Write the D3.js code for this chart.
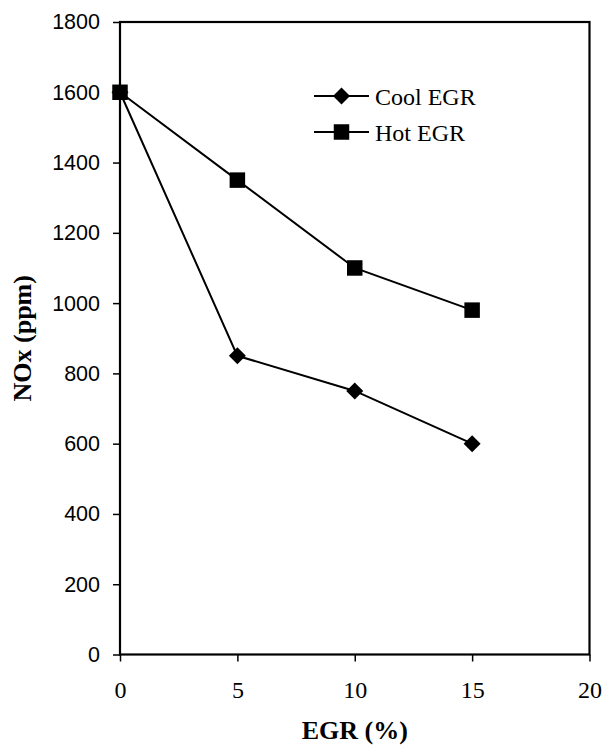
<!DOCTYPE html>
<html><head><meta charset="utf-8">
<script src="https://cdn.jsdelivr.net/npm/d3@7"></script>
<style>body{margin:0;background:#fff}</style>
</head><body>
<svg id="c" width="603" height="749"></svg>
<script>
const egr = [0, 5, 10, 15];
const coolEGR = [1600, 850, 750, 600];
const hotEGR = [1600, 1350, 1100, 980];
const xTicks = [0, 5, 10, 15, 20];
const yTicks = [0, 200, 400, 600, 800, 1000, 1200, 1400, 1600, 1800];

const svg = d3.select("#c");
const L = 120, R = 589.5, T = 22, B = 654.5;
const x = d3.scaleLinear().domain([0, 20]).range([L, R]);
const y = d3.scaleLinear().domain([0, 1800]).range([B, T]);
const serif = "Liberation Serif, Times New Roman, serif";

svg.append("rect").attr("x", L).attr("y", T).attr("width", R - L).attr("height", B - T)
  .attr("fill", "none").attr("stroke", "#000").attr("stroke-width", 2.2);

const yAxis = svg.append("g").attr("transform", `translate(${L},0)`)
  .call(d3.axisLeft(y).tickValues(yTicks).tickSize(7).tickPadding(13).tickFormat(d3.format("d")));
yAxis.select(".domain").remove();
yAxis.selectAll("line").attr("stroke", "#000").attr("stroke-width", 1.5);
yAxis.selectAll("text").style("font-family", "Liberation Sans, Arial, sans-serif").style("font-size", "21.5px").attr("fill", "#000");

const xAxis = svg.append("g").attr("transform", `translate(0,${B})`)
  .call(d3.axisBottom(x).tickValues(xTicks).tickSize(7).tickPadding(19));
xAxis.select(".domain").remove();
xAxis.selectAll("line").attr("stroke", "#000").attr("stroke-width", 1.5);
xAxis.selectAll("text").style("font-family", serif).style("font-size", "24px").attr("fill", "#000");

const line = d3.line().x((d, i) => x(egr[i])).y(d => y(d));
[hotEGR, coolEGR].forEach(s => {
  svg.append("path").datum(s).attr("d", line).attr("fill", "none").attr("stroke", "#000").attr("stroke-width", 2);
});

const sq = d3.symbol().type(d3.symbolSquare).size(240)();
const dm = "M0,-8.5L8.5,0L0,8.5L-8.5,0Z";
svg.append("g").selectAll("path").data(hotEGR).join("path")
  .attr("d", sq).attr("transform", (d, i) => `translate(${x(egr[i])},${y(d)})`).attr("fill", "#000");
svg.append("g").selectAll("path").data(coolEGR).join("path")
  .attr("d", dm).attr("transform", (d, i) => `translate(${x(egr[i])},${y(d)})`).attr("fill", "#000");

const leg = [{name: "Cool EGR", sym: dm, yy: 96}, {name: "Hot EGR", sym: sq, yy: 132}];
leg.forEach(l => {
  svg.append("line").attr("x1", 314).attr("x2", 369).attr("y1", l.yy).attr("y2", l.yy).attr("stroke", "#000").attr("stroke-width", 2);
  svg.append("path").attr("d", l.sym).attr("transform", `translate(341.5,${l.yy})`).attr("fill", "#000");
  svg.append("text").attr("x", 375).attr("y", l.yy + 8.5).text(l.name)
    .style("font-family", serif).style("font-size", "24px");
});

svg.append("text").attr("x", (L + R) / 2).attr("y", 739).attr("text-anchor", "middle").text("EGR (%)")
  .style("font-family", serif).style("font-size", "26px").style("font-weight", "bold");
svg.append("text").attr("transform", `translate(31,${(T + B) / 2}) rotate(-90)`).attr("text-anchor", "middle").text("NOx (ppm)")
  .style("font-family", serif).style("font-size", "26px").style("font-weight", "bold");
</script>
</body></html>
